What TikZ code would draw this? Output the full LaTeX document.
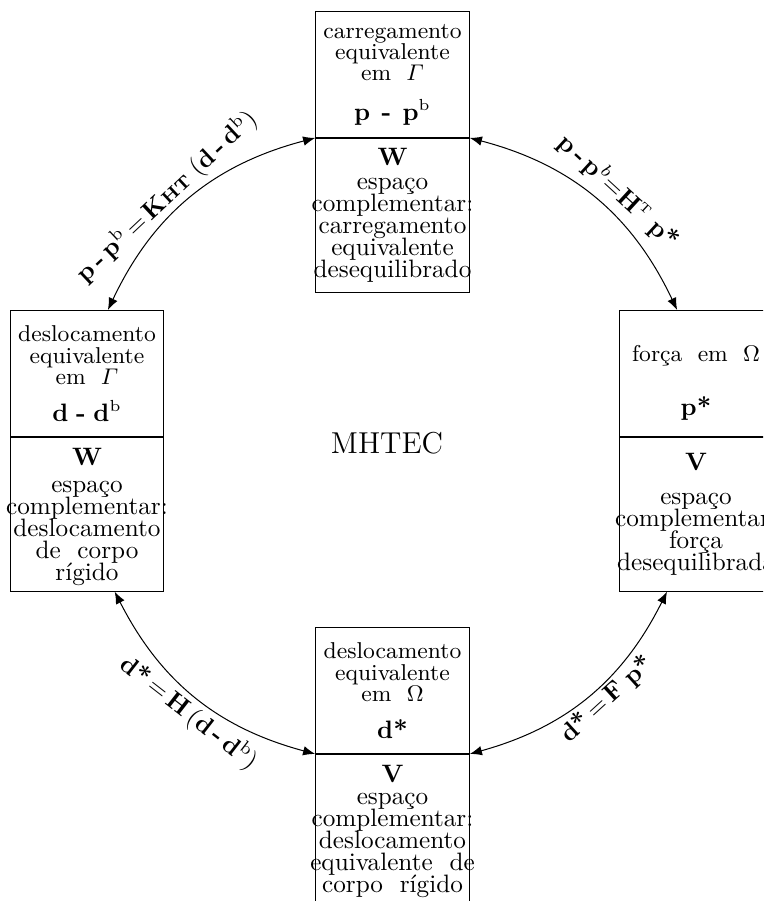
\documentclass[tikz,border=0pt]{standalone}
\usepackage{amsmath}
\usetikzlibrary{arrows.meta,positioning}
\newcommand{\upperfont}{\fontsize{9.1}{8.5}\selectfont\lineskiplimit=-\maxdimen}
\newcommand{\lowerfont}{\fontsize{10}{8.7}\selectfont\lineskiplimit=-\maxdimen}
\newcommand{\formula}[1]{{\fontsize{10}{8.7}\selectfont\bfseries #1}}
\newcommand{\wideline}[1]{\makebox[0pt]{#1}}

\begin{document}
\begin{tikzpicture}[
  x=0.397pt, y=-0.397pt,
  upperpart/.style={draw, anchor=north, minimum width=61pt, minimum height=50pt,
    text width=61pt, inner sep=0pt, align=center, font=\upperfont},
  lowerpart/.style={upperpart, minimum height=61pt, font=\lowerfont},
  link/.style={<->, >={Latex[length=4.8pt,width=3.8pt]}},
  eqlabel/.style={sloped, inner sep=1pt},
]
  \useasboundingbox (0,0) rectangle (763,901);
  \clip (0,0) rectangle (763,901);

  % Top box: load on Gamma
  \node[upperpart] (topU) at (392.5,11)
    {carregamento\\ equivalente\\ em\ \ $\varGamma$\\[7pt] \formula{p\hspace{4.5pt}-\hspace{4.5pt}p}\textsuperscript{b}};
  \node[lowerpart, below=0pt of topU] (topL)
    {\textbf{W}\\[1pt] espaço\\ \wideline{complementar:}\\ carregamento\\ equivalente\\ \wideline{desequilibrado}};

  % Left box: displacement on Gamma
  \node[upperpart] (leftU) at (87,310)
    {deslocamento\\ equivalente\\ em\ \ $\varGamma$\\[6pt] \formula{d - d}\textsuperscript{b}};
  \node[lowerpart, below=0pt of leftU] (leftL)
    {\rule{0pt}{9pt}\textbf{W}\\[2pt] espaço\\ \wideline{complementar:}\\ deslocamento\\ de\ \ corpo\\ rígido};

  % Right box: force in Omega
  \node[upperpart] (rightU) at (696,310)
    {\rule{0pt}{14pt}força\ \ em\ \ $\Omega$\\[13pt] \formula{p*}};
  \node[lowerpart, below=0pt of rightU] (rightL)
    {\textbf{V}\\[5pt] espaço\\ \wideline{complementar:}\\ força\\ \wideline{desequilibrada}};

  % Bottom box: displacement in Omega
  \node[upperpart] (botU) at (392.5,627)
    {deslocamento\\ equivalente\\ em\ \ $\Omega$\\[6pt] \formula{d*}};
  \node[lowerpart, below=0pt of botU] (botL)
    {\textbf{V}\\ espaço\\ \wideline{complementar:}\\ deslocamento\\ \wideline{equivalente\ \ de}\\ corpo\ \ rígido};

  \node[font=\large] (title) at (387,443) {MHTEC};

  % Relations
  \draw[link] ([xshift=8.3pt]leftU.north) to[bend left=25]
    node[eqlabel, above, pos=0.44] {\textbf{p\,-\,p}\textsuperscript{b}$\,=\,$\textbf{K}{\scriptsize\bfseries HT}\ (\textbf{d\,-\,d}\textsuperscript{b})}
    (topU.south west);
  \draw[link] (topU.south east) to[bend left=25]
    node[eqlabel, above=2pt, pos=0.55] {\textbf{p\,-\,p}$^{b}$$=$\textbf{H}\textsuperscript{\tiny T}\ \textbf{p*}}
    ([xshift=-7.5pt]rightU.north);
  \draw[link] ([xshift=11pt]leftL.south) to[bend right=24]
    node[eqlabel, below, pos=0.52] {\textbf{d*}$\,=\,$\textbf{H}\,(\textbf{d\,-\,d}\textsuperscript{b})}
    (botL.north west);
  \draw[link] (botL.north east) to[bend right=24]
    node[eqlabel, below, pos=0.55] {\textbf{d*}$\,=\,$\textbf{F}\ \textbf{p*}}
    ([xshift=-11.5pt]rightL.south);
\end{tikzpicture}
\end{document}
